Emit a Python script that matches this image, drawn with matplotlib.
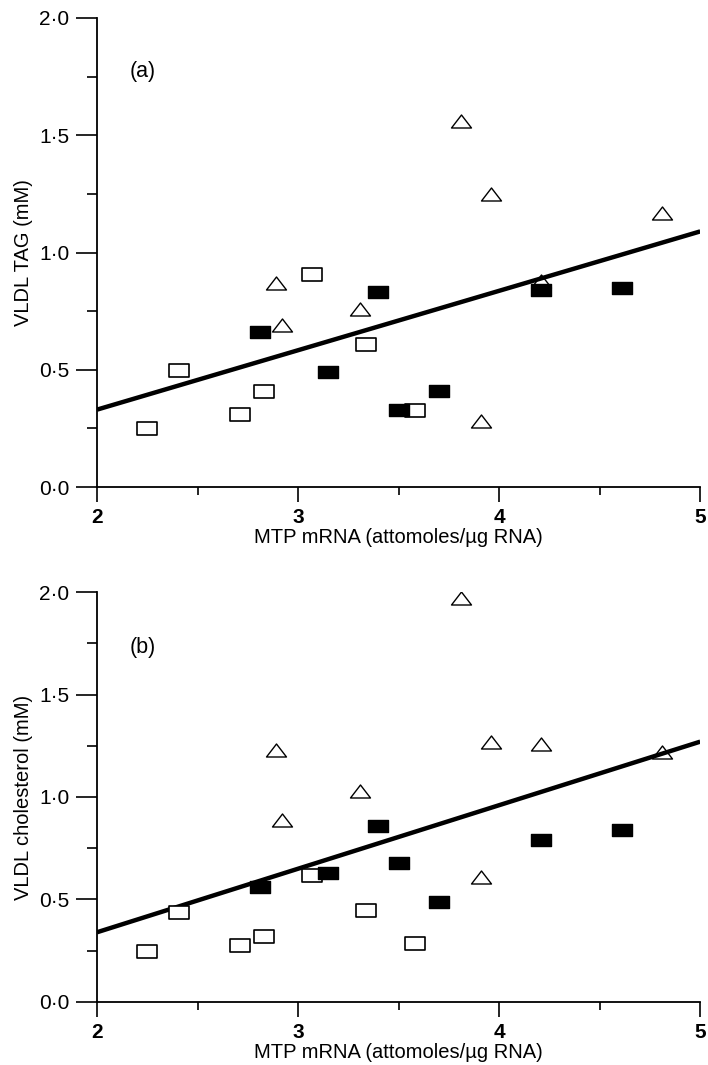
import matplotlib
matplotlib.use('Agg')
import matplotlib.pyplot as plt
import numpy as np
from matplotlib.path import Path
from matplotlib.ticker import FixedLocator, FixedFormatter

plt.rcParams['font.family'] = ['Liberation Sans', 'DejaVu Sans']

# MTP mRNA values per group (shared by both panels)
open_sq_x = [2.25, 2.41, 2.71, 2.83, 3.07, 3.34, 3.58]
filled_sq_x = [2.81, 3.15, 3.40, 3.50, 3.70, 4.21, 4.61]
triangle_x = [2.89, 2.92, 3.31, 3.81, 3.91, 3.96, 4.21, 4.81]

# (a) VLDL TAG (mM)
tag_open = [0.25, 0.50, 0.31, 0.41, 0.91, 0.61, 0.33]
tag_filled = [0.66, 0.49, 0.83, 0.33, 0.41, 0.84, 0.85]
tag_tri = [0.87, 0.69, 0.76, 1.56, 0.28, 1.25, 0.88, 1.17]
tag_fit = [0.33, 1.09]  # at x=2 and x=5

# (b) VLDL cholesterol (mM)
chol_open = [0.25, 0.44, 0.28, 0.32, 0.62, 0.45, 0.29]
chol_filled = [0.56, 0.63, 0.86, 0.68, 0.49, 0.79, 0.84]
chol_tri = [1.23, 0.89, 1.03, 1.97, 0.61, 1.27, 1.26, 1.22]
chol_fit = [0.34, 1.27]

fit_x = [2, 5]
ytick_vals = [0.0, 0.5, 1.0, 1.5, 2.0]
ytick_labels = ['0\u00b70', '0\u00b75', '1\u00b70', '1\u00b75', '2\u00b70']
xtick_vals = [2, 3, 4, 5]

rect = Path([(-1, -0.65), (1, -0.65), (1, 0.65), (-1, 0.65), (-1, -0.65)],
            [Path.MOVETO, Path.LINETO, Path.LINETO, Path.LINETO, Path.CLOSEPOLY])
tri = Path([(-1, -0.65), (1, -0.65), (0, 0.65), (-1, -0.65)],
           [Path.MOVETO, Path.LINETO, Path.LINETO, Path.CLOSEPOLY])

fig = plt.figure(figsize=(7.08, 10.65), dpi=100)
ax_a = fig.add_axes([0.137, 0.5427, 0.852, 0.4404])
ax_b = fig.add_axes([0.137, 0.0592, 0.852, 0.3849])


def draw_panel(ax, yo, yf, yt, fit, ylabel, tag, tag_y):
    ax.plot(fit_x, fit, color='black', lw=3.2, solid_capstyle='butt', zorder=2)
    ax.plot(open_sq_x, yo, ls='none', marker=rect, ms=14.4, mfc='white',
            mec='black', mew=1.2, zorder=3)
    ax.plot(filled_sq_x, yf, ls='none', marker=rect, ms=14, mfc='black',
            mec='black', mew=1.0, zorder=4)
    ax.plot(triangle_x, yt, ls='none', marker=tri, ms=14.4, mfc='none',
            mec='black', mew=1.0, zorder=3)
    ax.set_xlim(2, 5)
    ax.set_ylim(0, 2)
    for s in ['top', 'right']:
        ax.spines[s].set_visible(False)
    for s in ['left', 'bottom']:
        ax.spines[s].set_linewidth(1.3)
    ax.yaxis.set_major_locator(FixedLocator(ytick_vals))
    ax.yaxis.set_major_formatter(FixedFormatter(ytick_labels))
    ax.yaxis.set_minor_locator(FixedLocator([0.25, 0.75, 1.25, 1.75]))
    ax.xaxis.set_major_locator(FixedLocator(xtick_vals))
    ax.xaxis.set_minor_locator(FixedLocator([2.5, 3.5, 4.5]))
    ax.tick_params(axis='y', which='major', direction='out', length=15, width=1.2,
                   pad=5, labelsize=15)
    ax.tick_params(axis='y', which='minor', direction='out', length=7.5, width=1.2)
    ax.tick_params(axis='x', which='major', direction='out', length=11, width=1.2,
                   pad=4, labelsize=15)
    ax.tick_params(axis='x', which='minor', direction='out', length=6, width=1.2)
    for lab in ax.get_xticklabels():
        lab.set_fontweight('bold')
    ax.set_xlabel('MTP mRNA (attomoles/\u00b5g RNA)', fontsize=14.5, labelpad=1)
    ax.set_ylabel(ylabel, fontsize=14.5, labelpad=4)
    ax.text(2.16, tag_y, tag, fontsize=15.5, va='center', ha='left')


draw_panel(ax_a, tag_open, tag_filled, tag_tri, tag_fit, 'VLDL TAG (mM)', '(a)', 1.77)
draw_panel(ax_b, chol_open, chol_filled, chol_tri, chol_fit, 'VLDL cholesterol (mM)', '(b)', 1.73)

fig.savefig('out.png', dpi=100)
